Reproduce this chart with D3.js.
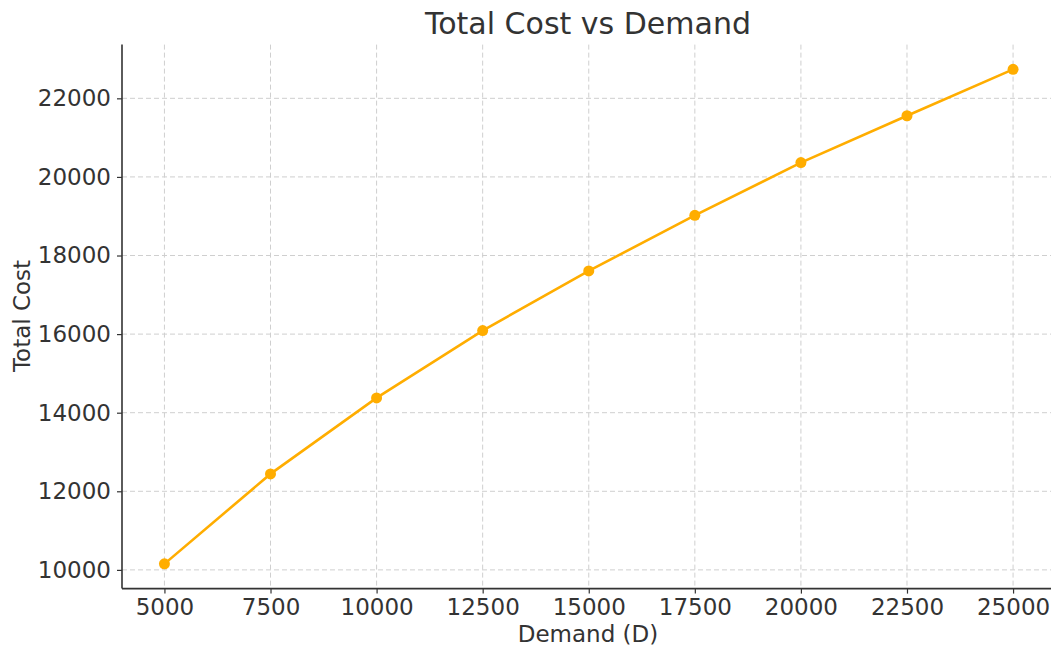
<!DOCTYPE html>
<html><head><meta charset="utf-8">
<script src="https://cdn.jsdelivr.net/npm/d3@7"></script>
<style>
body{margin:0;background:#fff;}
text{font-family:"DejaVu Sans",sans-serif;fill:#333;}
</style></head>
<body><svg id="c" width="1051" height="648"></svg>
<script>
const demand = [5000, 7500, 10000, 12500, 15000, 17500, 20000, 22500, 25000];
const totalCost = [10153, 12443, 14377, 16089, 17608, 19023, 20364, 21557, 22738];
const xTicks = [5000, 7500, 10000, 12500, 15000, 17500, 20000, 22500, 25000];
const yTicks = [10000, 12000, 14000, 16000, 18000, 20000, 22000];
const title = "Total Cost vs Demand";
const xLabel = "Demand (D)";
const yLabel = "Total Cost";

const svg = d3.select("#c");
const L = 122, R = 1055.5, T = 44.6, B = 588.6;
const xr = [d3.min(demand), d3.max(demand)], xm = (xr[1]-xr[0])*0.05;
const yr = [d3.min(totalCost), d3.max(totalCost)], ym = (yr[1]-yr[0])*0.05;
const x = d3.scaleLinear().domain([xr[0]-xm, xr[1]+xm]).range([L, R]);
const y = d3.scaleLinear().domain([yr[0]-ym, yr[1]+ym]).range([B, T]);

const grid = svg.append("g");
grid.selectAll(".gx").data(xTicks).join("line")
  .attr("x1", d=>x(d)).attr("x2", d=>x(d)).attr("y1", T).attr("y2", B)
  .attr("stroke", "#cfcfcf").attr("stroke-width", 1).attr("stroke-dasharray", "5,3");
grid.selectAll(".gy").data(yTicks).join("line")
  .attr("x1", L).attr("x2", R).attr("y1", d=>y(d)).attr("y2", d=>y(d))
  .attr("stroke", "#cfcfcf").attr("stroke-width", 1).attr("stroke-dasharray", "5,3");

const xa = svg.append("g").attr("transform", `translate(0,${B})`)
  .call(d3.axisBottom(x).tickValues(xTicks).tickSize(5).tickPadding(5).tickFormat(d3.format("d")));
const ya = svg.append("g").attr("transform", `translate(${L},0)`)
  .call(d3.axisLeft(y).tickValues(yTicks).tickSize(5).tickPadding(6).tickFormat(d3.format("d")));
[xa, ya].forEach(a => {
  a.select(".domain").remove();
  a.selectAll(".tick line").attr("stroke", "#333").attr("stroke-width", 1.2);
  a.selectAll(".tick text").attr("font-size", 23).attr("fill", "#2b2b2b").style("font-family", "DejaVu Sans");
});
svg.append("line").attr("x1", L).attr("x2", L).attr("y1", T).attr("y2", B).attr("stroke", "#333").attr("stroke-width", 1.6);
svg.append("line").attr("x1", L).attr("x2", 1051).attr("y1", B).attr("y2", B).attr("stroke", "#333").attr("stroke-width", 1.6);

const pts = demand.map((d,i)=>[d, totalCost[i]]);
svg.append("path").datum(pts)
  .attr("d", d3.line().x(d=>x(d[0])).y(d=>y(d[1])))
  .attr("fill", "none").attr("stroke", "#FFAD00").attr("stroke-width", 2.6);
svg.selectAll(".pt").data(pts).join("circle")
  .attr("cx", d=>x(d[0])).attr("cy", d=>y(d[1])).attr("r", 5.5).attr("fill", "#FFAD00");

svg.append("text").attr("x", 588).attr("y", 34).attr("text-anchor", "middle")
  .attr("font-size", 30).text(title);
svg.append("text").attr("x", 588).attr("y", 642).attr("text-anchor", "middle")
  .attr("font-size", 23).text(xLabel);
svg.append("text").attr("transform", "translate(30,316) rotate(-90)").attr("text-anchor", "middle")
  .attr("font-size", 23).text(yLabel);
</script></body></html>
